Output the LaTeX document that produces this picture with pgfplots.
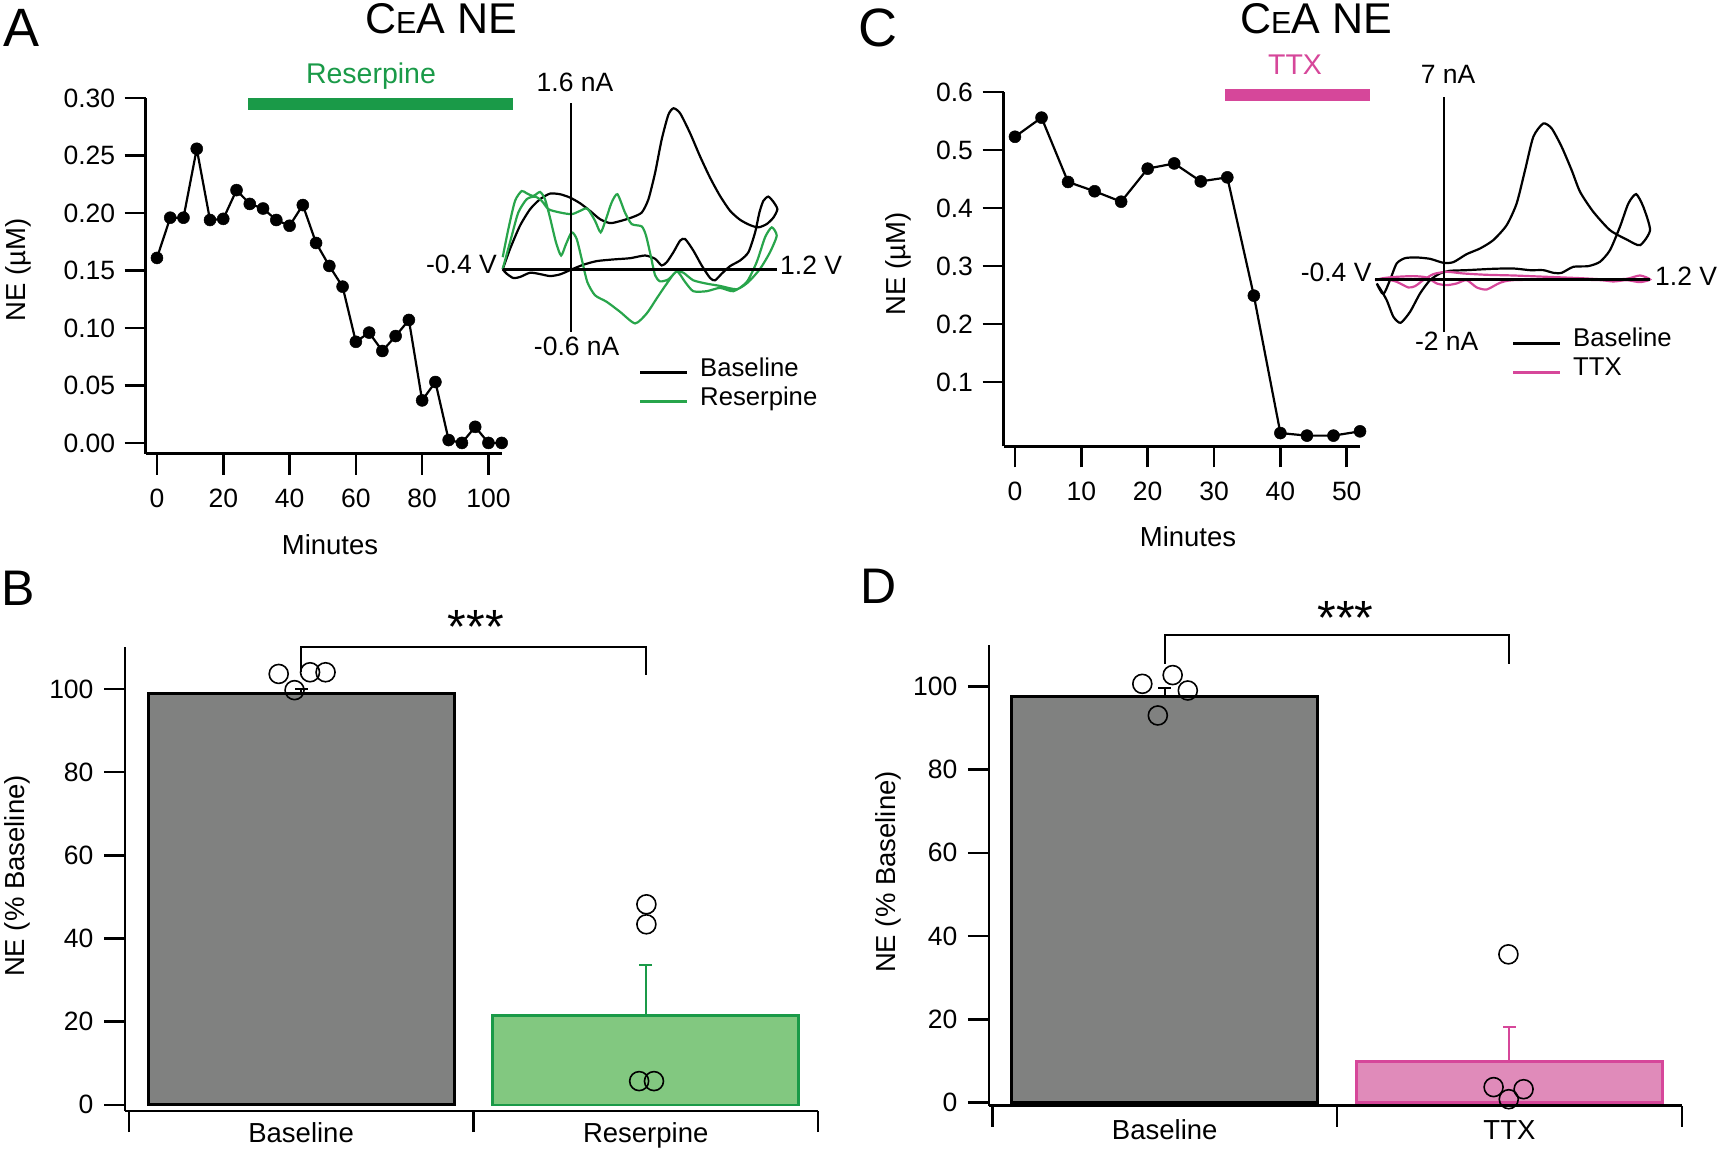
\documentclass[border=0pt]{standalone}
\usepackage{fontspec}
\setmainfont{Liberation Sans}
\usepackage{pgfplots}
\pgfplotsset{compat=1.18}

\definecolor{resgreen}{RGB}{26,154,72}
\definecolor{resline}{RGB}{40,165,75}
\definecolor{resfill}{RGB}{130,200,128}
\definecolor{ttxpink}{RGB}{214,71,154}
\definecolor{ttxfill}{RGB}{224,139,186}
\definecolor{bargray}{RGB}{128,129,128}

\newcommand{\fs}{\fontsize{27.5}{32}\selectfont}
\newcommand{\fst}{\fontsize{26.5}{30}\selectfont}
\newcommand{\fsi}{\fontsize{26.5}{30}\selectfont}
\newcommand{\fsl}{\fontsize{25.7}{30}\selectfont}

\pgfplotsset{
  ts/.style={scale only axis, anchor=south west, clip=false,
    axis lines*=left, axis line style={-, line width=2.5pt},
    tick align=outside, major tick length=21pt,
    tick style={line width=2.5pt, black},
    tick label style={font=\fst},
    yticklabel style={xshift=-6pt},
    xticklabel style={yshift=-11pt},
    /pgf/number format/assume math mode=true},
  cv/.style={scale only axis, anchor=south west, clip=false,
    axis lines=middle, axis line style={-, line width=2.5pt},
    xtick=\empty, ytick=\empty, axis on top},
  bars/.style={ts, xtick={-0.5,0.5,1.5}, xticklabels={},
    yticklabel style={xshift=-1pt},
    ytick={0,20,40,60,80,100}},
  % error bar: stem from mean to mean+sem, cap drawn as a mark
  stem/.style={forget plot, #1, line width=2pt},
  cap/.style={forget plot, #1, only marks, mark=-, mark size=6.5pt,
    mark options={line width=2pt, #1}},
}

\begin{document}
\begin{tikzpicture}
\useasboundingbox (0,0) rectangle (1720pt,-1150pt);

% ---------- A: time course ----------
\begin{axis}[ts, at={(145.7pt,-453.6pt)}, width=356pt, height=355.4pt,
  xmin=-3.4, xmax=104, ymin=-0.0093, ymax=0.30,
  xtick={0,20,40,60,80,100}, ytick={0,0.05,0.1,0.15,0.2,0.25,0.3},
  yticklabel style={/pgf/number format/.cd, fixed, fixed zerofill, precision=2}]
\addplot[black, line width=2.2pt, mark=*, mark size=6pt, mark options={line width=0.5pt}] coordinates {
(0,0.161) (4,0.196) (8,0.196) (12,0.256) (16,0.194) (20,0.195) (24,0.220)
(28,0.208) (32,0.204) (36,0.194) (40,0.189) (44,0.207) (48,0.174) (52,0.154)
(56,0.136) (60,0.088) (64,0.096) (68,0.080) (72,0.093) (76,0.107) (80,0.037)
(84,0.053) (88,0.0025) (92,0.0) (96,0.014) (100,0.0) (104,0.0)};
\end{axis}

% ---------- A: inset voltammogram ----------
\begin{axis}[cv, at={(502.7pt,-331.7pt)}, width=274pt, height=228.4pt,
  xmin=-0.4, xmax=1.2, ymin=-0.6, ymax=1.6]
\addplot[black, line width=2.2pt, smooth, tension=0.4] coordinates {
(-0.400,0) (-0.357,0.198) (-0.299,0.421) (-0.240,0.580) (-0.182,0.676) (-0.124,0.730)
(-0.065,0.724) (-0.007,0.692) (0.052,0.637) (0.110,0.564) (0.168,0.484) (0.227,0.446)
(0.285,0.465) (0.353,0.500) (0.412,0.548) (0.451,0.676) (0.490,0.931) (0.528,1.249)
(0.567,1.488) (0.597,1.552) (0.636,1.504) (0.694,1.313) (0.752,1.090) (0.811,0.883)
(0.869,0.708) (0.928,0.564) (0.986,0.478) (1.044,0.427) (1.093,0.405) (1.142,0.437)
(1.181,0.500) (1.204,0.580) (1.181,0.650) (1.151,0.701) (1.122,0.660) (1.099,0.548)
(1.074,0.357) (1.035,0.166) (0.986,0.086) (0.928,0.032) (0.879,-0.041) (0.840,-0.105)
(0.811,-0.083) (0.762,0.038) (0.713,0.182) (0.665,0.293) (0.636,0.277) (0.597,0.166)
(0.558,0.070) (0.528,0.038) (0.490,0.102) (0.431,0.134) (0.344,0.108) (0.246,0.096)
(0.149,0.080) (0.071,0.045) (0.003,0.000) (-0.065,-0.048) (-0.124,-0.064) (-0.182,-0.045)
(-0.240,-0.032) (-0.299,-0.073) (-0.338,-0.083) (-0.377,-0.041) (-0.400,0)};
\addplot[resline, line width=2.2pt, smooth, tension=0.4] coordinates {
(-0.400,0.118) (-0.367,0.389) (-0.328,0.660) (-0.289,0.755) (-0.260,0.733) (-0.221,0.708)
(-0.182,0.746) (-0.153,0.676) (-0.124,0.500) (-0.089,0.261) (-0.059,0.134) (-0.030,0.245)
(0.003,0.357) (0.032,0.293) (0.061,0.102) (0.094,-0.121) (0.139,-0.249) (0.207,-0.312)
(0.285,-0.408) (0.373,-0.520) (0.441,-0.424) (0.499,-0.280) (0.558,-0.137) (0.616,-0.019)
(0.665,-0.121) (0.713,-0.210) (0.791,-0.210) (0.869,-0.178) (0.947,-0.210) (1.025,-0.121)
(1.083,0.070) (1.132,0.309) (1.171,0.405) (1.200,0.325) (1.161,0.166) (1.103,0.006)
(1.035,-0.121) (0.967,-0.191) (0.869,-0.159) (0.791,-0.137) (0.713,-0.105) (0.655,-0.032)
(0.616,-0.019) (0.567,-0.096) (0.519,-0.115) (0.490,-0.057) (0.464,0.134) (0.437,0.325)
(0.412,0.414) (0.353,0.437) (0.314,0.548) (0.270,0.724) (0.236,0.644) (0.203,0.484)
(0.172,0.357) (0.139,0.469) (0.094,0.586) (0.052,0.564) (0.003,0.532) (-0.065,0.548)
(-0.133,0.580) (-0.172,0.660) (-0.211,0.701) (-0.260,0.676) (-0.309,0.548) (-0.347,0.325)
(-0.381,0.118) (-0.400,0.006)};
\end{axis}

% ---------- C: time course ----------
\begin{axis}[ts, at={(1003.5pt,-446.4pt)}, width=356.5pt, height=354.3pt,
  xmin=-1.73, xmax=52, ymin=-0.011, ymax=0.6,
  xtick={0,10,20,30,40,50}, ytick={0.1,0.2,0.3,0.4,0.5,0.6},
  yticklabel style={/pgf/number format/.cd, fixed, fixed zerofill, precision=1}]
\addplot[black, line width=2.2pt, mark=*, mark size=6pt, mark options={line width=0.5pt}] coordinates {
(0,0.523) (4,0.556) (8,0.445) (12,0.429) (16,0.411) (20,0.468) (24,0.477)
(28,0.446) (32,0.453) (36,0.249) (40,0.012) (44,0.0076) (48,0.0076) (52,0.015)};
\end{axis}

% ---------- C: inset voltammogram ----------
\begin{axis}[cv, at={(1375pt,-331.7pt)}, width=275pt, height=235pt,
  xmin=-0.4, xmax=1.2, ymin=-2, ymax=7]
\addplot[black, line width=2.2pt, smooth, tension=0.4] coordinates {
(-0.390,-0.153) (-0.352,-0.562) (-0.313,-0.026) (-0.274,0.613) (-0.225,0.817) (-0.158,0.843)
(-0.080,0.791) (-0.002,0.638) (0.056,0.664) (0.133,0.970) (0.211,1.187) (0.288,1.506)
(0.366,2.081) (0.424,2.911) (0.473,4.187) (0.521,5.464) (0.579,5.974) (0.628,5.783)
(0.686,5.081) (0.744,4.187) (0.793,3.357) (0.870,2.591) (0.967,1.889) (1.064,1.532)
(1.142,1.315) (1.200,1.889) (1.161,2.783) (1.119,3.268) (1.074,2.911) (1.025,2.017)
(0.967,1.123) (0.909,0.677) (0.841,0.511) (0.754,0.485) (0.686,0.255) (0.638,0.255)
(0.579,0.357) (0.502,0.357) (0.405,0.421) (0.288,0.409) (0.133,0.357) (0.036,0.332)
(-0.022,0.230) (-0.080,-0.026) (-0.138,-0.536) (-0.196,-1.238) (-0.251,-1.660)
(-0.293,-1.430) (-0.332,-0.791) (-0.371,-0.345) (-0.390,-0.153)};
\addplot[ttxpink, line width=2.2pt, smooth, tension=0.4] coordinates {
(-0.400,-0.026) (-0.332,0) (-0.274,-0.089) (-0.206,-0.306) (-0.167,-0.255) (-0.119,-0.026)
(-0.061,0.204) (0.017,0.294) (0.114,0.230) (0.250,0.179) (0.405,0.153) (0.599,0.102)
(0.793,0.051) (0.948,0) (1.064,0.026) (1.142,0.153) (1.200,0) (1.142,-0.102)
(1.064,-0.026) (0.987,-0.077) (0.909,-0.026) (0.696,0) (0.405,-0.026) (0.327,-0.128)
(0.250,-0.383) (0.192,-0.306) (0.133,-0.026) (0.075,-0.153) (0.017,-0.217) (-0.041,-0.153)
(-0.099,0.077) (-0.177,0.128) (-0.274,0.102) (-0.352,0.051) (-0.400,-0.026)};
\end{axis}

% ---------- B: bars ----------
\begin{axis}[bars, at={(125pt,-1111.2pt)}, width=693pt, height=463.9pt,
  xmin=-0.511, xmax=1.5, ymin=-1.54, ymax=110]
\addplot[ybar, bar width=0.888, bar shift=0pt, fill=bargray, draw=black, line width=3pt]
  coordinates {(0,98.8)};
\addplot[ybar, bar width=0.888, bar shift=0pt, fill=resfill, draw=resgreen, line width=2.5pt]
  coordinates {(1,21.5)};
\addplot[stem=black] coordinates {(0,98.8) (0,100.0)};
\addplot[cap=black] coordinates {(0,100.0)};
\addplot[stem=resgreen] coordinates {(1,21.5) (1,33.5)};
\addplot[cap=resgreen] coordinates {(1,33.5)};
\addplot[only marks, mark=o, mark size=9.5pt, mark options={line width=1.6pt, black}] coordinates {
(-0.065,103.6) (-0.019,99.7) (0.026,104.0) (0.071,104.0)
(1.002,48.2) (1.002,43.4) (0.981,5.7) (1.024,5.7)};
\draw[line width=2pt] (axis cs:0,104.1) -- (axis cs:0,110) -- (axis cs:1,110) -- (axis cs:1,103.3);
\node[font=\fs, anchor=base, inner sep=0pt] at (axis cs:0,-1.54) [yshift=-31.6pt] {Baseline};
\node[font=\fs, anchor=base, inner sep=0pt] at (axis cs:1,-1.54) [yshift=-31.6pt] {Reserpine};
\end{axis}

% ---------- D: bars ----------
\begin{axis}[bars, at={(988.9pt,-1105.5pt)}, width=692.9pt, height=460.8pt,
  xmin=-0.51, xmax=1.5, ymin=-0.72, ymax=110]
\addplot[ybar, bar width=0.888, bar shift=0pt, fill=bargray, draw=black, line width=3pt]
  coordinates {(0,97.5)};
\addplot[ybar, bar width=0.888, bar shift=0pt, fill=ttxfill, draw=ttxpink, line width=2.5pt]
  coordinates {(1,9.8)};
\addplot[stem=black] coordinates {(0,97.5) (0,99.7)};
\addplot[cap=black] coordinates {(0,99.7)};
\addplot[stem=ttxpink] coordinates {(1,9.8) (1,18.2)};
\addplot[cap=ttxpink] coordinates {(1,18.2)};
\addplot[only marks, mark=o, mark size=9.5pt, mark options={line width=1.6pt, black}] coordinates {
(-0.065,100.6) (0.023,102.7) (0.067,99.0) (-0.020,93.0)
(0.997,35.6) (0.954,3.7) (1.041,3.2) (0.998,0.8)};
\draw[line width=2pt] (axis cs:0,105.4) -- (axis cs:0,112.4) -- (axis cs:1,112.4) -- (axis cs:1,105.4);
\node[font=\fs, anchor=base, inner sep=0pt] at (axis cs:0,-0.72) [yshift=-33.5pt] {Baseline};
\node[font=\fs, anchor=base, inner sep=0pt] at (axis cs:1,-0.72) [yshift=-33.5pt] {TTX};
\end{axis}

% ---------- annotations ----------
\begin{scope}[every node/.style={inner sep=0pt}]
% panel letters and titles
\node[font=\fontsize{54}{58}\selectfont, anchor=base] at (22pt,-46.4pt) {A};
\node[font=\fontsize{50}{55}\selectfont, anchor=base] at (18pt,-605pt) {B};
\node[font=\fontsize{54}{58}\selectfont, anchor=base] at (878pt,-47pt) {C};
\node[font=\fontsize{50}{55}\selectfont, anchor=base] at (879pt,-603pt) {D};
\node[font=\fontsize{43}{48}\selectfont, anchor=base] at (441pt,-33.3pt) {C{\fontsize{30.5}{32}\selectfont E}A NE};
\node[font=\fontsize{43}{48}\selectfont, anchor=base] at (1316pt,-33.3pt) {C{\fontsize{30.5}{32}\selectfont E}A NE};
% treatment bars
\fill[resgreen] (248pt,-98pt) rectangle (512.5pt,-110pt);
\node[font=\fontsize{28.5}{32}\selectfont, text=resgreen, anchor=base] at (371pt,-84pt) {Reserpine};
\fill[ttxpink] (1225pt,-88.6pt) rectangle (1370pt,-100.7pt);
\node[font=\fontsize{28.5}{32}\selectfont, text=ttxpink, anchor=base] at (1295pt,-75pt) {TTX};
% axis titles
\node[font=\fs, anchor=base] at (330pt,-554pt) {Minutes};
\node[font=\fs, anchor=base] at (1188pt,-546.5pt) {Minutes};
\node[font=\fs, anchor=base, rotate=90] at (25pt,-270pt) {NE (µM)};
\node[font=\fs, anchor=base, rotate=90] at (905pt,-264pt) {NE (µM)};
\node[font=\fs, anchor=base, rotate=90] at (24.7pt,-876pt) {NE (\% Baseline)};
\node[font=\fs, anchor=base, rotate=90] at (895.7pt,-872pt) {NE (\% Baseline)};
% inset A labels
\node[font=\fsi, anchor=base] at (575pt,-91.7pt) {1.6 nA};
\node[font=\fsi, anchor=base] at (576.7pt,-355pt) {-0.6 nA};
\node[font=\fsi, anchor=base east] at (497pt,-273pt) {-0.4 V};
\node[font=\fsi, anchor=base west] at (780pt,-274pt) {1.2 V};
\draw[black, line width=2.5pt] (640pt,-372.7pt) -- (686.7pt,-372.7pt);
\draw[resline, line width=2.5pt] (640pt,-401.7pt) -- (686.7pt,-401.7pt);
\node[font=\fsl, anchor=base west] at (700pt,-376.7pt) {Baseline};
\node[font=\fsl, anchor=base west] at (700pt,-405pt) {Reserpine};
% inset C labels
\node[font=\fsi, anchor=base] at (1448pt,-83.3pt) {7 nA};
\node[font=\fsi, anchor=base] at (1446.7pt,-350pt) {-2 nA};
\node[font=\fsi, anchor=base east] at (1371.7pt,-281.7pt) {-0.4 V};
\node[font=\fsi, anchor=base west] at (1655pt,-285pt) {1.2 V};
\draw[black, line width=2.5pt] (1513pt,-343.3pt) -- (1560pt,-343.3pt);
\draw[ttxpink, line width=2.5pt] (1513pt,-372.7pt) -- (1560pt,-372.7pt);
\node[font=\fsl, anchor=base west] at (1573pt,-346.7pt) {Baseline};
\node[font=\fsl, anchor=base west] at (1573pt,-375pt) {TTX};
% significance
\node[font=\fontsize{48}{52}\selectfont, anchor=base] at (476pt,-643pt) {***};
\node[font=\fontsize{48}{52}\selectfont, anchor=base] at (1345.5pt,-634pt) {***};
\end{scope}
\end{tikzpicture}
\end{document}
